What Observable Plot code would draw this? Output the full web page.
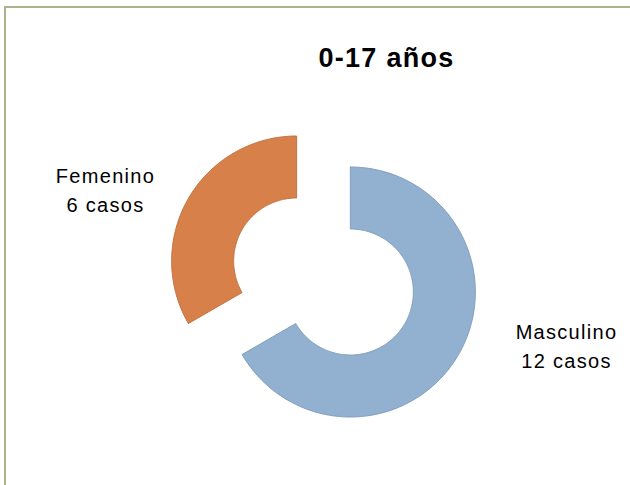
<!DOCTYPE html>
<html>
<head>
<meta charset="utf-8">
<script src="https://cdn.jsdelivr.net/npm/d3@7"></script>
<script src="https://cdn.jsdelivr.net/npm/@observablehq/plot@0.6"></script>
<style>
  html, body { margin: 0; padding: 0; background: #fff; overflow: hidden; }
  #wrap { position: relative; width: 630px; height: 485px; }
  #frame { position: absolute; left: 4px; top: 6px; width: 700px; height: 600px;
           border-left: 2px solid #aab48c; border-top: 2px solid #aab48c; }
  #chart { position: absolute; left: 0; top: 0; }
  #chart svg text { letter-spacing: 1.3px; }
</style>
</head>
<body>
<div id="wrap"><div id="frame"></div><div id="chart"></div></div>
<script>
// ---- data ----
const title = "0-17 años";
const categories = ["Masculino", "Femenino"];
const values = [12, 6];
const unitLabel = "casos";
const colors = ["#92b0cf", "#d88049"];

// ---- layout ----
const W = 630, H = 485;
const cx = 323, cy = 276;        // pie centre
const outerR = 125, innerR = 63; // ring radii
const explode = 31;              // slice explosion
const labelPos = {Masculino: [566, 344], Femenino: [105, 188]};
const titlePos = [386, 58];
const font = "'Liberation Sans', Arial, sans-serif";

const pie = d3.pie().sort(null).value(d => d.value)(
  categories.map((c, i) => ({category: c, value: values[i], color: colors[i]}))
);

// polygon outline of each ring slice
const outline = [];
for (const s of pie) {
  const mid = (s.startAngle + s.endAngle) / 2;
  const ox = cx + explode * Math.sin(mid), oy = cy - explode * Math.cos(mid);
  const n = Math.max(8, Math.ceil((s.endAngle - s.startAngle) / (Math.PI / 180)));
  const pts = [];
  for (let k = 0; k <= n; k++) {
    const a = s.startAngle + (s.endAngle - s.startAngle) * k / n;
    pts.push([ox + outerR * Math.sin(a), oy - outerR * Math.cos(a)]);
  }
  for (let k = n; k >= 0; k--) {
    const a = s.startAngle + (s.endAngle - s.startAngle) * k / n;
    pts.push([ox + innerR * Math.sin(a), oy - innerR * Math.cos(a)]);
  }
  pts.push(pts[0]);
  pts.forEach(([x, y]) => outline.push({
    category: s.data.category, color: s.data.color,
    edge: d3.color(s.data.color).darker(0.3).formatHex(), x, y
  }));
}

const labels = pie.map(s => ({
  text: `${s.data.category}\n${s.data.value} ${unitLabel}`,
  x: labelPos[s.data.category][0],
  y: labelPos[s.data.category][1]
}));
const titles = [{text: title, x: titlePos[0], y: titlePos[1]}];

const chart = Plot.plot({
  width: W, height: H,
  margin: 0,
  x: {domain: [0, W], range: [0, W], axis: null},
  y: {domain: [0, H], range: [0, H], axis: null},
  marks: [
    Plot.line(outline, {x: "x", y: "y", z: "category", fill: "color", stroke: "edge", strokeWidth: 1}),
    Plot.text(labels, {
      x: "x", y: "y", text: "text", fontSize: 20, lineHeight: 1.46, fontFamily: font,
      fill: "#000", textAnchor: "middle"
    }),
    Plot.text(titles, {
      x: "x", y: "y", text: "text", fontSize: 27, fontWeight: "bold", fontFamily: font,
      fill: "#000", textAnchor: "middle"
    })
  ]
});
chart.style.background = "transparent";
document.getElementById("chart").appendChild(chart);
</script>
</body>
</html>
